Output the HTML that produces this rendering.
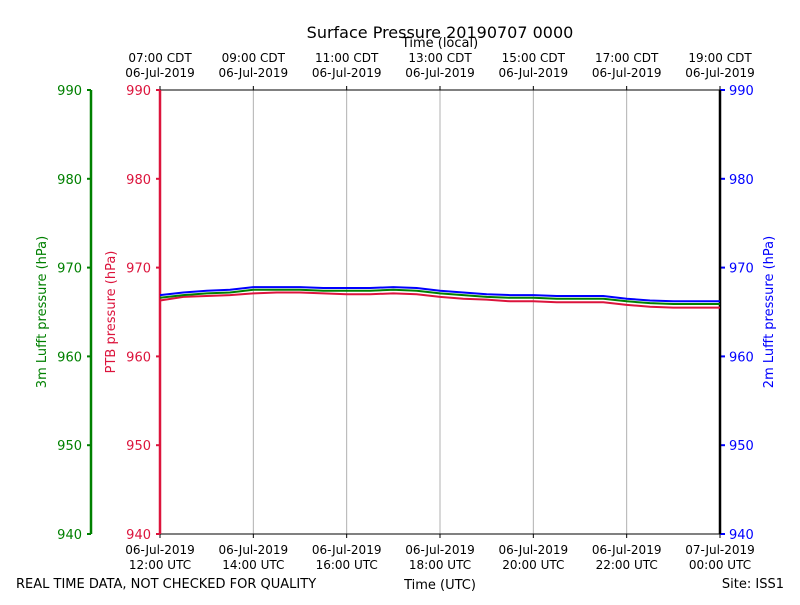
<!DOCTYPE html>
<html><head><meta charset="utf-8"><style>
body{margin:0;background:#fff}
svg text{font-family:"DejaVu Sans","Liberation Sans",sans-serif}
</style></head><body>
<svg id="c" width="800" height="600" xmlns="http://www.w3.org/2000/svg">
<rect width="800" height="600" fill="#fff"/>
<text x="440" y="38" font-size="16" text-anchor="middle">Surface Pressure 20190707 0000</text>
<text x="440" y="47" font-size="13" text-anchor="middle">Time (local)</text>
<text x="440" y="589" font-size="13" text-anchor="middle">Time (UTC)</text>
<text x="16" y="588" font-size="13">REAL TIME DATA, NOT CHECKED FOR QUALITY</text>
<text x="784" y="588" font-size="13" text-anchor="end">Site: ISS1</text>
<text transform="translate(46,312) rotate(-90)" font-size="13" fill="green" text-anchor="middle">3m Lufft pressure (hPa)</text>
<text transform="translate(115,312) rotate(-90)" font-size="13" fill="crimson" text-anchor="middle">PTB pressure (hPa)</text>
<text transform="translate(773,312) rotate(-90)" font-size="13" fill="blue" text-anchor="middle">2m Lufft pressure (hPa)</text>
<g id="grid"></g><g id="axes"></g><g id="series"></g>
</svg>
<script>
const yTicks=[940,950,960,970,980,990];
const hourTicks=[12,14,16,18,20,22,24];
const utcLabels=["06-Jul-2019|12:00 UTC","06-Jul-2019|14:00 UTC","06-Jul-2019|16:00 UTC","06-Jul-2019|18:00 UTC","06-Jul-2019|20:00 UTC","06-Jul-2019|22:00 UTC","07-Jul-2019|00:00 UTC"];
const localLabels=["07:00 CDT|06-Jul-2019","09:00 CDT|06-Jul-2019","11:00 CDT|06-Jul-2019","13:00 CDT|06-Jul-2019","15:00 CDT|06-Jul-2019","17:00 CDT|06-Jul-2019","19:00 CDT|06-Jul-2019"];
const hours=[12,12.5,13,13.5,14,14.5,15,15.5,16,16.5,17,17.5,18,18.5,19,19.5,20,20.5,21,21.5,22,22.5,23,23.5,24];
const blue2m=[966.9,967.2,967.4,967.5,967.8,967.8,967.8,967.7,967.7,967.7,967.8,967.7,967.4,967.2,967.0,966.9,966.9,966.8,966.8,966.8,966.5,966.3,966.2,966.2,966.2];
const green3m=[966.6,966.9,967.1,967.2,967.5,967.5,967.5,967.4,967.4,967.4,967.5,967.4,967.1,966.9,966.7,966.6,966.6,966.5,966.5,966.5,966.2,966.0,965.9,965.9,965.9];
const redPTB=[966.3,966.7,966.8,966.9,967.1,967.2,967.2,967.1,967.0,967.0,967.1,967.0,966.7,966.5,966.4,966.2,966.2,966.1,966.1,966.1,965.8,965.6,965.5,965.5,965.5];
const L=160,R=720,T=90,B=534;
const xs=h=>L+(h-12)/12*(R-L);
const ys=v=>B-(v-940)/50*(B-T);
const NS="http://www.w3.org/2000/svg";
function mk(tag,attrs,parent,txt){const e=document.createElementNS(NS,tag);for(const k in attrs)e.setAttribute(k,attrs[k]);if(txt!==undefined)e.textContent=txt;document.getElementById(parent).appendChild(e);return e;}
hourTicks.forEach((h,i)=>{
  const x=xs(h);
  if(i>0&&i<hourTicks.length-1){const g=mk('line',{x1:x,x2:x,y1:T,y2:B,stroke:'#b0b0b0','stroke-width':1},'grid');
  
  }
  mk('line',{x1:x,x2:x,y1:B,y2:B+4,stroke:'#000'},'axes');
  mk('line',{x1:x,x2:x,y1:T,y2:T-4,stroke:'#000'},'axes');
  const p=utcLabels[i].split('|');
  const t1=mk('text',{x:x,y:B+20,'font-size':12,'text-anchor':'middle'},'axes',p[0]);
  
  
  mk('text',{x:x,y:B+35,'font-size':12,'text-anchor':'middle'},'axes',p[1]);
  const q=localLabels[i].split('|');
  const t2=mk('text',{x:x,y:T-28,'font-size':12,'text-anchor':'middle'},'axes',q[0]);
  
  
  mk('text',{x:x,y:T-13,'font-size':12,'text-anchor':'middle'},'axes',q[1]);
});
yTicks.forEach(v=>{
  const y=ys(v);
  mk('line',{x1:91,x2:87,y1:y,y2:y,stroke:'green','stroke-width':2},'axes');
  const a=mk('text',{x:82,y:y+5,'font-size':13,fill:'green','text-anchor':'end'},'axes',v);
  
  
  mk('line',{x1:L,x2:L-4,y1:y,y2:y,stroke:'crimson','stroke-width':2},'axes');
  const b=mk('text',{x:151,y:y+5,'font-size':13,fill:'crimson','text-anchor':'end'},'axes',v);
  
  
  mk('line',{x1:R,x2:R+5,y1:y,y2:y,stroke:'blue','stroke-width':2},'axes');
  const c=mk('text',{x:729,y:y+5,'font-size':13,fill:'blue'},'axes',v);
  
  
});
mk('line',{x1:L,x2:R,y1:T,y2:T,stroke:'#000'},'axes');
mk('line',{x1:L,x2:R,y1:B,y2:B,stroke:'#000'},'axes');
mk('line',{x1:91,x2:91,y1:T,y2:B,stroke:'green','stroke-width':2.5},'axes');
mk('line',{x1:L,x2:L,y1:T,y2:B,stroke:'crimson','stroke-width':2.5},'axes');
mk('line',{x1:R,x2:R,y1:T,y2:B,stroke:'#000','stroke-width':2.5},'axes');
[[redPTB,'crimson','ptb-pressure-line'],[green3m,'green','lufft-3m-line'],[blue2m,'blue','lufft-2m-line']].forEach(([d,col,n])=>{
  const pts=d.map((v,i)=>xs(hours[i]).toFixed(1)+','+ys(v).toFixed(1)).join(' ');
  const p=mk('polyline',{points:pts,fill:'none',stroke:col,'stroke-width':2},'series');
  
  
});
</script>
</body></html>
